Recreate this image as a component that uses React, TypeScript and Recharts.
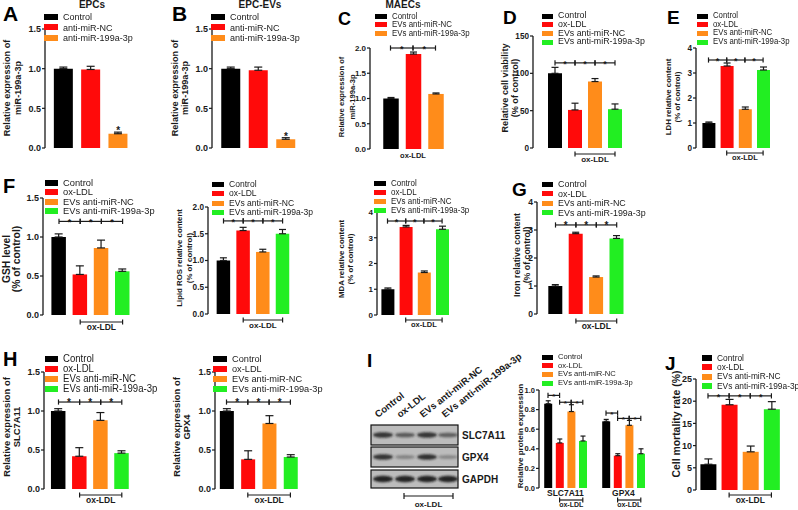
import React from 'react';
import { BarChart, Bar, XAxis, YAxis, Cell, ErrorBar, ReferenceLine, ReferenceDot } from 'recharts';

const FONT = '"Liberation Sans", Arial, Helvetica, sans-serif';
const INK = '#1a1a1a';
const BLACK = '#000000';
const RED = '#ff0a0a';
const ORANGE = '#ff8c1a';
const GREEN = '#22ee22';

// ---------- categories ----------
const CAT_AB = ['Control', 'anti-miR-NC', 'anti-miR-199a-3p'];
const CAT_C = ['Control', 'EVs anti-miR-NC', 'EVs anti-miR-199a-3p'];
const CAT_4 = ['Control', 'ox-LDL', 'EVs anti-miR-NC', 'EVs anti-miR-199a-3p'];
const PROTEINS = ['SLC7A11', 'GPX4'];
const COLORS_3 = [BLACK, RED, ORANGE];
const COLORS_4 = [BLACK, RED, ORANGE, GREEN];

// ---------- values ----------
const epcVal = [1.0, 0.99, 0.18];
const epcErr = [0.02, 0.04, 0.02];
const epcEvVal = [1.0, 0.98, 0.11];
const epcEvErr = [0.02, 0.04, 0.02];
const maecVal = [1.0, 1.88, 1.09];
const maecErr = [0.02, 0.04, 0.02];
const viabVal = [100, 51, 89, 52];
const viabErr = [8, 9, 4, 7];
const ldhVal = [1.0, 3.28, 1.55, 3.12];
const ldhErr = [0.04, 0.12, 0.09, 0.12];
const gshVal = [1.0, 0.52, 0.86, 0.56];
const gshErr = [0.04, 0.11, 0.1, 0.03];
const rosVal = [1.0, 1.56, 1.16, 1.5];
const rosErr = [0.05, 0.06, 0.05, 0.08];
const mdaVal = [1.0, 3.42, 1.65, 3.33];
const mdaErr = [0.05, 0.06, 0.06, 0.12];
const ironVal = [1.0, 2.87, 1.32, 2.7];
const ironErr = [0.05, 0.05, 0.04, 0.1];
const slcMrnaVal = [1.0, 0.42, 0.88, 0.46];
const slcMrnaErr = [0.03, 0.11, 0.1, 0.03];
const gpxMrnaVal = [1.0, 0.38, 0.84, 0.41];
const gpxMrnaErr = [0.03, 0.11, 0.1, 0.03];
const slcProtVal = [0.86, 0.46, 0.78, 0.48];
const slcProtErr = [0.03, 0.04, 0.07, 0.05];
const gpxProtVal = [0.68, 0.33, 0.64, 0.35];
const gpxProtErr = [0.02, 0.02, 0.05, 0.05];
const mortVal = [5.8, 19.2, 8.6, 18.2];
const mortErr = [1.2, 1.2, 1.3, 1.7];

// western blot band intensities (lanes = CAT_4)
const blotSLC = [0.85, 0.62, 0.85, 0.58];
const blotGPX = [0.85, 0.35, 0.88, 0.32];
const blotGAPDH = [0.95, 0.95, 0.95, 0.95];

// tick labels
const T15 = [0, 0.5, 1, 1.5];
const T20 = [0, 0.5, 1, 1.5, 2];
const T4 = [0, 1, 2, 3, 4];
const T150 = [0, 50, 100, 150];
const T10 = [0, 0.2, 0.4, 0.6, 0.8, 1.0];
const T25 = [0, 5, 10, 15, 20, 25];

// protein chart (I) categories: two groups with a spacer
const protCats = [...CAT_4.map((c) => PROTEINS[0] + ' ' + c), ' ', ...CAT_4.map((c) => PROTEINS[1] + ' ' + c)];
const protVals: (number | null)[] = [...slcProtVal, null, ...gpxProtVal];
const protErrs: (number | null)[] = [...slcProtErr, null, ...gpxProtErr];
const protColors = [...COLORS_4, 'none', ...COLORS_4];

type Sig = { a: number; b: number; v: number };
type Ox = { a: number; b: number; px: number };
type Spec = {
  id: string;
  cats: string[];
  values: (number | null)[];
  errs: (number | null)[];
  colors: string[];
  ax: number; ae: number; yTop: number; y0: number;
  domain: [number, number]; ticks: number[]; dec: number;
  c0: number; s: number; bw: number; tickFs: number; cap: number;
  sig?: Sig[]; sigFs?: number;
  ox?: Ox[]; oxFs?: number;
  starIdx?: number;
  groupLabels?: { a: number; b: number; text: string }[];
  legend: { items: string[]; colors: string[]; x: number; y: number; dy: number; fs: number; w: number; h: number };
  ylab: { lines: string[]; xs: number[]; cy: number; fs: number };
};

const sig3 = (v: number): Sig[] => [{ a: 0, b: 1, v }, { a: 1, b: 2, v }, { a: 2, b: 3, v }];

const specs: Spec[] = [
  {
    id: 'A', cats: CAT_AB, values: epcVal, errs: epcErr, colors: COLORS_3,
    ax: 45, ae: 133, yTop: 29, y0: 148, domain: [0, 1.5], ticks: T15, dec: 1,
    c0: 63.5, s: 27.3, bw: 19, tickFs: 9, cap: 4, starIdx: 2,
    legend: { items: CAT_AB, colors: COLORS_3, x: 44, y: 17, dy: 10.3, fs: 9.5, w: 14, h: 6 },
    ylab: { lines: ['Relative expression of', 'miR-199a-3p'], xs: [8, 19], cy: 88, fs: 9.1 },
  },
  {
    id: 'B', cats: CAT_AB, values: epcEvVal, errs: epcEvErr, colors: COLORS_3,
    ax: 212, ae: 306, yTop: 29, y0: 148, domain: [0, 1.5], ticks: T15, dec: 1,
    c0: 231, s: 27.5, bw: 19, tickFs: 9, cap: 4, starIdx: 2,
    legend: { items: CAT_AB, colors: COLORS_3, x: 211, y: 17, dy: 10.3, fs: 9.5, w: 14, h: 6 },
    ylab: { lines: ['Relative expression of', 'miR-199a-3p'], xs: [176, 186], cy: 88, fs: 9.1 },
  },
  {
    id: 'C', cats: CAT_C, values: maecVal, errs: maecErr, colors: COLORS_3,
    ax: 370, ae: 448, yTop: 48, y0: 149, domain: [0, 2], ticks: T20, dec: 1,
    c0: 390.5, s: 22.5, bw: 15.5, tickFs: 8, cap: 3.5,
    sig: [{ a: 0, b: 1, v: 2.0 }, { a: 1, b: 2, v: 2.0 }], sigFs: 9,
    ox: [{ a: 1, b: 1, px: 2 }], oxFs: 7.5,
    legend: { items: CAT_C, colors: COLORS_3, x: 375, y: 16, dy: 8.6, fs: 8.3, w: 12, h: 5 },
    ylab: { lines: ['Relative expression of', 'miR-199a-3p'], xs: [342, 353], cy: 97, fs: 7.6 },
  },
  {
    id: 'D', cats: CAT_4, values: viabVal, errs: viabErr, colors: COLORS_4,
    ax: 533, ae: 627, yTop: 36, y0: 148, domain: [0, 150], ticks: T150, dec: 0,
    c0: 555, s: 20, bw: 14, tickFs: 8.2, cap: 3.5,
    sig: sig3(114), sigFs: 9,
    ox: [{ a: 1, b: 3, px: 6 }], oxFs: 8,
    legend: { items: CAT_4, colors: COLORS_4, x: 542, y: 16, dy: 8.7, fs: 9.3, w: 11, h: 5 },
    ylab: { lines: ['Relative cell viability', '(% of control)'], xs: [506, 516], cy: 88, fs: 9.1 },
  },
  {
    id: 'E', cats: CAT_4, values: ldhVal, errs: ldhErr, colors: COLORS_4,
    ax: 696, ae: 775, yTop: 48, y0: 148, domain: [0, 4], ticks: T4, dec: 0,
    c0: 708.5, s: 18.2, bw: 13, tickFs: 8.2, cap: 3.5,
    sig: sig3(3.52), sigFs: 9,
    ox: [{ a: 1, b: 3, px: 5 }], oxFs: 7.5,
    legend: { items: CAT_4, colors: COLORS_4, x: 697, y: 16, dy: 8.7, fs: 8.2, w: 11, h: 5 },
    ylab: { lines: ['LDH relative content', '(% of control)'], xs: [669, 678], cy: 97, fs: 7.9 },
  },
  {
    id: 'F1', cats: CAT_4, values: gshVal, errs: gshErr, colors: COLORS_4,
    ax: 43, ae: 140, yTop: 198, y0: 315, domain: [0, 1.5], ticks: T15, dec: 1,
    c0: 59, s: 21.2, bw: 14.5, tickFs: 9, cap: 4,
    sig: sig3(1.2), sigFs: 9,
    ox: [{ a: 1, b: 3, px: 7 }], oxFs: 8.5,
    legend: { items: CAT_4, colors: COLORS_4, x: 45, y: 182.5, dy: 9.6, fs: 9.8, w: 13, h: 6 },
    ylab: { lines: ['GSH level', '(% of control)'], xs: [7, 17], cy: 259, fs: 10.3 },
  },
  {
    id: 'F2', cats: CAT_4, values: rosVal, errs: rosErr, colors: COLORS_4,
    ax: 208, ae: 298, yTop: 207, y0: 314, domain: [0, 2], ticks: T20, dec: 1,
    c0: 223.5, s: 19.7, bw: 13.5, tickFs: 8.2, cap: 3.5,
    sig: sig3(1.74), sigFs: 9,
    ox: [{ a: 1, b: 3, px: 6 }], oxFs: 8,
    legend: { items: CAT_4, colors: COLORS_4, x: 212, y: 184, dy: 9.5, fs: 9.0, w: 12, h: 5 },
    ylab: { lines: ['Lipid ROS relative content', '(% of control)'], xs: [180, 190], cy: 258, fs: 7.8 },
  },
  {
    id: 'F3', cats: CAT_4, values: mdaVal, errs: mdaErr, colors: COLORS_4,
    ax: 377, ae: 454, yTop: 212, y0: 315, domain: [0, 4], ticks: T4, dec: 0,
    c0: 387.5, s: 18.2, bw: 13, tickFs: 8, cap: 3.5,
    sig: sig3(3.65), sigFs: 9,
    ox: [{ a: 1, b: 3, px: 5 }], oxFs: 7.5,
    legend: { items: CAT_4, colors: COLORS_4, x: 374, y: 183, dy: 9, fs: 8.4, w: 12, h: 5 },
    ylab: { lines: ['MDA relative content', '(% of control)'], xs: [342, 351], cy: 259, fs: 7.9 },
  },
  {
    id: 'G', cats: CAT_4, values: ironVal, errs: ironErr, colors: COLORS_4,
    ax: 537, ae: 635, yTop: 202, y0: 314, domain: [0, 4], ticks: T4, dec: 0,
    c0: 555.5, s: 20.4, bw: 14, tickFs: 8.5, cap: 3.5,
    sig: sig3(3.18), sigFs: 10,
    ox: [{ a: 1, b: 3, px: 7 }], oxFs: 8.5,
    legend: { items: CAT_4, colors: COLORS_4, x: 542, y: 184, dy: 9.6, fs: 9.4, w: 11, h: 5 },
    ylab: { lines: ['Iron relative content', '(% of control)'], xs: [517, 527], cy: 255, fs: 8.8 },
  },
  {
    id: 'H1', cats: CAT_4, values: slcMrnaVal, errs: slcMrnaErr, colors: COLORS_4,
    ax: 44, ae: 133, yTop: 372, y0: 489, domain: [0, 1.5], ticks: T15, dec: 1,
    c0: 58.5, s: 21.1, bw: 14.5, tickFs: 9, cap: 4,
    sig: sig3(1.115), sigFs: 10,
    ox: [{ a: 1, b: 3, px: 6 }], oxFs: 8.5,
    legend: { items: CAT_4, colors: COLORS_4, x: 45, y: 359, dy: 10, fs: 10.1, w: 13, h: 6 },
    ylab: { lines: ['Relative expression of', 'SLC7A11'], xs: [7, 17], cy: 427, fs: 9.4 },
  },
  {
    id: 'H2', cats: CAT_4, values: gpxMrnaVal, errs: gpxMrnaErr, colors: COLORS_4,
    ax: 215, ae: 305, yTop: 372, y0: 489, domain: [0, 1.5], ticks: T15, dec: 1,
    c0: 226.5, s: 21.3, bw: 14, tickFs: 9, cap: 4,
    sig: sig3(1.115), sigFs: 10,
    ox: [{ a: 1, b: 3, px: 6 }], oxFs: 8.5,
    legend: { items: CAT_4, colors: COLORS_4, x: 213, y: 359, dy: 10, fs: 9.7, w: 14, h: 6 },
    ylab: { lines: ['Relative expression of', 'GPX4'], xs: [177, 187], cy: 427, fs: 9.4 },
  },
  {
    id: 'I', cats: protCats, values: protVals, errs: protErrs, colors: protColors,
    ax: 539, ae: 657, yTop: 390, y0: 488, domain: [0, 1], ticks: T10, dec: 1,
    c0: 548, s: 11.6, bw: 8, tickFs: 7.5, cap: 2.5,
    sig: [
      { a: 0, b: 1, v: 0.945 }, { a: 1, b: 2, v: 0.875 }, { a: 2, b: 3, v: 0.875 },
      { a: 5, b: 6, v: 0.765 }, { a: 6, b: 7, v: 0.71 }, { a: 7, b: 8, v: 0.71 },
    ], sigFs: 8,
    ox: [{ a: 1, b: 3, px: 12 }, { a: 6, b: 8, px: 12 }], oxFs: 7,
    groupLabels: [{ a: 1, b: 2, text: PROTEINS[0] }, { a: 6, b: 7, text: PROTEINS[1] }],
    legend: { items: CAT_4, colors: COLORS_4, x: 542, y: 357, dy: 8.7, fs: 8, w: 11, h: 5 },
    ylab: { lines: ['Relative protein expression'], xs: [521], cy: 436, fs: 8 },
  },
  {
    id: 'J', cats: CAT_4, values: mortVal, errs: mortErr, colors: COLORS_4,
    ax: 696, ae: 782, yTop: 379, y0: 490, domain: [0, 25], ticks: T25, dec: 0,
    c0: 708, s: 21.2, bw: 16, tickFs: 9, cap: 4,
    sig: sig3(21.2), sigFs: 9,
    ox: [{ a: 1, b: 3, px: 5 }], oxFs: 8.5,
    legend: { items: CAT_4, colors: COLORS_4, x: 702, y: 358, dy: 9.4, fs: 8.8, w: 10, h: 6 },
    ylab: { lines: ['Cell mortality rate (%)'], xs: [677], cy: 424, fs: 10.4 },
  },
];

const letters = [
  { t: 'A', x: 3, y: 7, fs: 21 }, { t: 'B', x: 172, y: 7, fs: 21 }, { t: 'C', x: 338, y: 14, fs: 18 },
  { t: 'D', x: 503, y: 12, fs: 19 }, { t: 'E', x: 667, y: 12, fs: 19 }, { t: 'F', x: 3, y: 180, fs: 20 },
  { t: 'G', x: 512, y: 184, fs: 19 }, { t: 'H', x: 3, y: 353, fs: 20 }, { t: 'I', x: 367, y: 355, fs: 19 },
  { t: 'J', x: 665, y: 358, fs: 19 },
];
const titles = [
  { t: 'EPCs', x: 92, y: 2 }, { t: 'EPC-EVs', x: 260, y: 2 }, { t: 'MAECs', x: 403, y: 2 },
];

const SX = 0.95; // legend text horizontal compression

function Chart({ sp }: { sp: Spec }) {
  const yw = 34, mt = 22, mb = 34, mr = 8;
  const plotH = sp.y0 - sp.yTop;
  const W = yw + (sp.ae - sp.ax) + mr;
  const H = mt + plotH + mb;
  const unit = (sp.domain[1] - sp.domain[0]) / plotH;
  const n = sp.cats.length;
  const padL = Math.max(0, sp.c0 - sp.s / 2 - sp.ax);
  const padR = Math.max(0, sp.ae - (sp.c0 + (n - 1) * sp.s + sp.s / 2));
  const data = sp.cats.map((c, i) => ({
    name: c,
    value: sp.values[i],
    err: sp.errs[i] == null ? null : [0, sp.errs[i] as number],
  }));
  const d = 2.6 * unit;
  const refs: React.ReactNode[] = [];
  const lineProps = { stroke: INK, strokeWidth: 1.2, ifOverflow: 'visible' as const };
  (sp.sig || []).forEach((g, k) => {
    const ca = sp.cats[g.a], cb = sp.cats[g.b];
    refs.push(
      <ReferenceLine key={`s${k}`} {...lineProps} segment={[{ x: ca, y: g.v }, { x: cb, y: g.v }]}
        label={{ value: '*', position: 'top', offset: -4, fontSize: sp.sigFs || 9, fontWeight: 700, fill: INK, fontFamily: FONT }} />
    );
    refs.push(<ReferenceLine key={`sa${k}`} {...lineProps} segment={[{ x: ca, y: g.v - d }, { x: ca, y: g.v + d }]} />);
    refs.push(<ReferenceLine key={`sb${k}`} {...lineProps} segment={[{ x: cb, y: g.v - d }, { x: cb, y: g.v + d }]} />);
  });
  (sp.ox || []).forEach((o, k) => {
    const ca = sp.cats[o.a], cb = sp.cats[o.b];
    const v = sp.domain[0] - o.px * unit;
    const same = o.a === o.b;
    refs.push(
      <ReferenceLine key={`o${k}`} {...lineProps} stroke={same ? 'none' : INK}
        segment={[{ x: ca, y: v }, { x: cb, y: v }]}
        label={{ value: 'ox-LDL', position: 'bottom', offset: 2, fontSize: sp.oxFs || 8, fontWeight: 700, fill: INK, fontFamily: FONT }} />
    );
    if (!same) {
      refs.push(<ReferenceLine key={`oa${k}`} {...lineProps} segment={[{ x: ca, y: v - d }, { x: ca, y: v + d }]} />);
      refs.push(<ReferenceLine key={`ob${k}`} {...lineProps} segment={[{ x: cb, y: v - d }, { x: cb, y: v + d }]} />);
    }
  });
  (sp.groupLabels || []).forEach((g, k) => {
    const v = sp.domain[0] - 1.5 * unit;
    refs.push(
      <ReferenceLine key={`g${k}`} stroke="none" ifOverflow="visible"
        segment={[{ x: sp.cats[g.a], y: v }, { x: sp.cats[g.b], y: v }]}
        label={{ value: g.text, position: 'bottom', offset: 0, fontSize: 8.5, fontWeight: 700, fill: INK, fontFamily: FONT }} />
    );
  });
  if (sp.starIdx != null) {
    const i = sp.starIdx;
    refs.push(
      <ReferenceDot key="star" x={sp.cats[i]} y={(sp.values[i] as number) + (sp.errs[i] as number)} r={0}
        ifOverflow="visible" fill="none" stroke="none"
        label={{ value: '*', position: 'top', offset: -2, fontSize: 10, fontWeight: 700, fill: INK, fontFamily: FONT }} />
    );
  }
  const pad = { left: padL, right: padR };
  return (
    <div style={{ position: 'absolute', left: sp.ax - yw, top: sp.yTop - mt }}>
      <BarChart width={W} height={H} data={data} margin={{ top: mt, right: mr, bottom: mb, left: 0 }}>
        <XAxis xAxisId="err" dataKey="name" type="category" hide padding={pad} />
        <XAxis
          dataKey="name" type="category" height={0} interval={0}
          padding={pad}
          axisLine={{ stroke: INK, strokeWidth: 1.3 }}
          tickLine={sp.groupLabels ? false : { stroke: INK, strokeWidth: 1.2 }}
          tickSize={4}
          tick={false}
        />
        <YAxis
          type="number" domain={sp.domain} ticks={sp.ticks} width={yw} interval={0} allowDataOverflow
          axisLine={{ stroke: INK, strokeWidth: 1.3 }} tickLine={{ stroke: INK, strokeWidth: 1.2 }}
          tickSize={3} tickMargin={1}
          tickFormatter={(v: number) => v.toFixed(sp.dec)}
          tick={{ fontSize: sp.tickFs, fontWeight: 700, fill: INK, fontFamily: FONT }}
        />
        {/* error bars drawn underneath the coloured bars so only the upper whisker shows */}
        <Bar xAxisId="err" dataKey="value" barSize={sp.bw} fill="none" isAnimationActive={false}>
          <ErrorBar dataKey="err" width={sp.cap} stroke={INK} strokeWidth={1.2} direction="y" />
        </Bar>
        <Bar dataKey="value" barSize={sp.bw} isAnimationActive={false}>
          {data.map((_, i) => (
            <Cell key={i} fill={sp.colors[i]} />
          ))}
        </Bar>
        {refs}
      </BarChart>
    </div>
  );
}

function Legend({ lg }: { lg: Spec['legend'] }) {
  return (
    <>
      {lg.items.map((t, i) => (
        <div key={i} style={{ position: 'absolute', left: lg.x, top: lg.y + i * lg.dy - 8, height: 16, display: 'flex', alignItems: 'center', whiteSpace: 'nowrap' }}>
          <span style={{ display: 'inline-block', width: lg.w, height: lg.h, background: lg.colors[i] }} />
          <span style={{ display: 'inline-block', marginLeft: 5, fontSize: lg.fs, lineHeight: 1, color: INK, transform: `scaleX(${SX})`, transformOrigin: 'left center' }}>{t}</span>
        </div>
      ))}
    </>
  );
}

function YLab({ yl }: { yl: Spec['ylab'] }) {
  return (
    <>
      {yl.lines.map((t, i) => (
        <div key={i} style={{
          position: 'absolute', left: yl.xs[i], top: yl.cy, transform: 'translate(-50%, -50%) rotate(-90deg)',
          whiteSpace: 'nowrap', fontSize: yl.fs, fontWeight: 700, lineHeight: 1, color: INK,
        }}>{t}</div>
      ))}
    </>
  );
}

function Blot() {
  const laneX = [383, 405, 427, 448];
  const rows = [
    { name: 'SLC7A11', y0: 425, y1: 445, vals: blotSLC, ry: 2.6 },
    { name: 'GPX4', y0: 447, y1: 467, vals: blotGPX, ry: 2.6 },
    { name: 'GAPDH', y0: 470, y1: 488, vals: blotGAPDH, ry: 3.0 },
  ];
  const laneLab = [378, 400, 423, 445];
  return (
    <svg width={798} height={510} style={{ position: 'absolute', left: 0, top: 0, pointerEvents: 'none' }}>
      <defs>
        <filter id="bl" x="-50%" y="-100%" width="200%" height="300%">
          <feGaussianBlur stdDeviation="1.1" />
        </filter>
      </defs>
      {CAT_4.map((c, i) => (
        <text key={c} transform={`translate(${laneLab[i]},418) rotate(-38)`} fontSize={9.6} fontWeight={700} fill={INK} fontFamily={FONT}>{c}</text>
      ))}
      {rows.map((r) => (
        <g key={r.name}>
          <rect x={371} y={r.y0} width={87} height={r.y1 - r.y0} fill="#bcbcbc" stroke="#111" strokeWidth={1.2} />
          {r.vals.map((v, i) => (
            <ellipse key={i} cx={laneX[i]} cy={(r.y0 + r.y1) / 2} rx={10} ry={r.ry * (0.6 + 0.5 * v)} fill="#1a1a1a" opacity={v} filter="url(#bl)" />
          ))}
          <text x={462} y={(r.y0 + r.y1) / 2 + 3.5} fontSize={10} fontWeight={700} fill={INK} fontFamily={FONT}>{r.name}</text>
        </g>
      ))}
      <g stroke={INK} strokeWidth={1.2}>
        <line x1={404} y1={496} x2={453} y2={496} />
        <line x1={404} y1={493} x2={404} y2={499} />
        <line x1={453} y1={493} x2={453} y2={499} />
      </g>
      <text x={428.5} y={507} textAnchor="middle" fontSize={8} fontWeight={700} fill={INK} fontFamily={FONT}>ox-LDL</text>
    </svg>
  );
}

export default function App() {
  return (
    <div style={{ position: 'absolute', left: 0, top: 0, width: 798, height: 510, background: '#fff', fontFamily: FONT, color: INK, overflow: 'hidden' }}>
      {specs.map((sp) => <Chart key={sp.id} sp={sp} />)}
      <Blot />
      {specs.map((sp) => <Legend key={'l' + sp.id} lg={sp.legend} />)}
      {specs.map((sp) => <YLab key={'y' + sp.id} yl={sp.ylab} />)}
      {letters.map((l) => (
        <div key={l.t} style={{ position: 'absolute', left: l.x, top: l.y - 0.2 * l.fs, fontSize: l.fs, fontWeight: 700, lineHeight: 1, color: '#000' }}>{l.t}</div>
      ))}
      {titles.map((t) => (
        <div key={t.t} style={{ position: 'absolute', left: t.x, top: t.y - 2, transform: 'translateX(-50%)', fontSize: 10, fontWeight: 700, lineHeight: 1, color: INK }}>{t.t}</div>
      ))}
    </div>
  );
}
